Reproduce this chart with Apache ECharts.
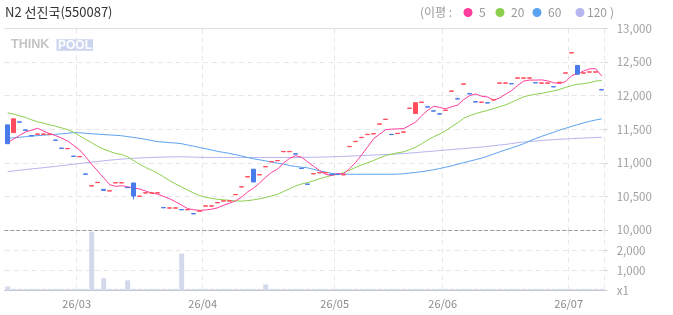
<!DOCTYPE html>
<html><head><meta charset="utf-8">
<script src="https://cdn.jsdelivr.net/npm/echarts@6/dist/echarts.min.js"></script>
<style>html,body{margin:0;padding:0;background:#fff}#c{width:673px;height:315px}</style>
</head><body><div id="c"></div>
<script>
const title = 'N2 선진국(550087)';
const dates = [
'26/02/09','26/02/10','26/02/11','26/02/12','26/02/13','26/02/19','26/02/20','26/02/23','26/02/24','26/02/25','26/02/26','26/02/27',
'26/03/03','26/03/04','26/03/05','26/03/06','26/03/09','26/03/10','26/03/11','26/03/12','26/03/13','26/03/16','26/03/17','26/03/18','26/03/19','26/03/20','26/03/23','26/03/24','26/03/25','26/03/26','26/03/27','26/03/30','26/03/31',
'26/04/01','26/04/02','26/04/03','26/04/06','26/04/07','26/04/08','26/04/09','26/04/10','26/04/13','26/04/14','26/04/15','26/04/16','26/04/17','26/04/20','26/04/21','26/04/22','26/04/23','26/04/24','26/04/27','26/04/28','26/04/29','26/04/30',
'26/05/04','26/05/06','26/05/07','26/05/08','26/05/11','26/05/12','26/05/13','26/05/14','26/05/15','26/05/18','26/05/19','26/05/20','26/05/21','26/05/22','26/05/26','26/05/27','26/05/28','26/05/29',
'26/06/01','26/06/02','26/06/04','26/06/05','26/06/08','26/06/09','26/06/10','26/06/11','26/06/12','26/06/15','26/06/16','26/06/17','26/06/18','26/06/19','26/06/22','26/06/23','26/06/24','26/06/25','26/06/26','26/06/29','26/06/30',
'26/07/01','26/07/02','26/07/03','26/07/06','26/07/07','26/07/08'];
const opens = [11565,11450,11610,11490,11405,11425,11425,11425,11340,11220,11210,11100,11090,10835,10655,10705,10605,10580,10700,10700,
10635,10700,10500,10550,10550,10550,10335,10325,10325,10305,10300,10245,10280,10355,10355,10405,10430,10430,10525,10640,
10790,10905,10820,10940,11015,11030,11165,11165,11135,10920,10685,10835,10850,10850,10830,10830,10820,11240,11315,11375,
11420,11430,11575,11645,11425,11435,11455,11810,11735,11900,11835,11775,11730,11780,12065,11955,12170,12030,11910,11900,
11895,11935,12185,12185,12180,12260,12260,12260,12195,12185,12185,12135,12195,12335,12635,12450,12335,12350,12350,12090];
const closes = [11285,11655,11605,11485,11400,11430,11430,11430,11335,11215,11215,11095,11095,10830,10660,10710,10590,10585,10705,10705,
10630,10505,10505,10555,10555,10555,10330,10330,10330,10300,10305,10240,10285,10360,10360,10410,10435,10435,10530,10645,
10795,10715,10825,10945,11020,11035,11170,11170,11130,10915,10680,10840,10855,10855,10825,10825,10825,11245,11320,11380,
11425,11435,11580,11650,11420,11440,11460,11815,11895,11905,11830,11770,11725,11785,12070,11950,12175,12025,11905,11905,
11890,11940,12190,12190,12175,12265,12265,12265,12190,12190,12190,12130,12200,12340,12640,12320,12340,12355,12355,12085];
const lowWicks = {21: 10455};
const volumes = [210,90,90,90,90,90,90,90,90,90,90,90,90,90,2940,90,620,90,90,90,
515,90,90,90,90,90,90,90,90,1850,90,90,90,90,90,90,90,90,90,90,
90,90,90,310,90,90,90,90,90,90,90,90,90,90,90,90,90,90,90,90,
90,90,90,90,90,90,90,90,90,90,90,90,90,90,90,90,90,90,90,90,
90,90,90,90,90,90,90,90,90,90,90,90,90,90,90,90,90,90,90,90];
const ma5 = [11300,11355,11410,11460,11486,11515,11470,11435,11405,11368,11325,11258,11191,11090,10979,10878,10777,10675,10650,10659,
10643,10626,10610,10580,10550,10535,10500,10465,10420,10369,10319,10301,10292,10298,10310,10331,10370,10400,10434,10491,
10568,10624,10702,10785,10860,10908,10999,11068,11105,11084,11013,10947,10884,10829,10811,10840,10837,10915,11008,11119,
11239,11361,11428,11494,11502,11505,11510,11557,11606,11703,11781,11843,11825,11803,11836,11860,11941,12001,12025,11992,
11980,11933,11966,12023,12077,12152,12217,12232,12232,12235,12220,12193,12180,12210,12300,12326,12368,12399,12402,12291];
const ma20 = [11745,11725,11700,11675,11640,11610,11590,11565,11545,11520,11495,11455,11400,11350,11300,11245,11205,11170,11140,11123,
11090,11033,10978,10931,10889,10845,10790,10735,10685,10639,10594,10551,10511,10487,10472,10457,10449,10442,10433,10430,
10438,10449,10465,10484,10508,10532,10574,10616,10656,10686,10705,10735,10764,10788,10812,10832,10852,10892,10932,10969,
11000,11036,11074,11109,11129,11149,11164,11196,11234,11284,11341,11388,11431,11478,11540,11596,11664,11703,11732,11758,
11782,11807,11837,11864,11902,11943,11984,12006,12021,12035,12053,12071,12095,12123,12151,12170,12178,12194,12217,12226];
const ma60 = [11365,11372,11380,11390,11400,11405,11412,11418,11425,11432,11440,11450,11447,11440,11433,11427,11420,11415,11410,11403,
11390,11378,11365,11350,11332,11315,11308,11300,11295,11285,11265,11248,11228,11210,11190,11170,11155,11140,11120,11102,
11080,11060,11045,11028,11012,10995,10980,10960,10945,10935,10925,10902,10880,10862,10842,10835,10832,10830,10830,10830,
10830,10830,10830,10830,10830,10832,10837,10848,10858,10868,10882,10898,10915,10935,10955,10980,11003,11025,11048,11070,
11100,11132,11163,11193,11222,11253,11285,11325,11362,11395,11425,11455,11488,11515,11543,11570,11595,11618,11638,11655];
const ma120 = [10870,10880,10890,10900,10910,10918,10928,10938,10948,10958,10968,10980,10990,11000,11010,11020,11030,11040,11048,11055,
11062,11067,11072,11076,11080,11083,11086,11088,11090,11090,11088,11085,11082,11080,11080,11080,11080,11080,11080,11080,
11080,11080,11080,11080,11080,11080,11080,11080,11080,11081,11082,11083,11085,11087,11090,11093,11096,11100,11104,11108,
11112,11116,11120,11124,11128,11132,11138,11145,11152,11160,11168,11175,11183,11190,11197,11205,11212,11220,11228,11235,
11245,11255,11265,11275,11287,11300,11310,11318,11325,11332,11340,11345,11350,11355,11360,11365,11369,11373,11377,11380];
const maNames = ['5','20','60','120'];
const maColors = ['#ff3d9d','#8ccf4d','#5ba2f2','#b5b5ef'];
const upColor = '#ff4d5e', downColor = '#4a7bea';

const candleData = dates.map((d,i)=>{
  const o=opens[i], c=closes[i];
  const lo = lowWicks[i] !== undefined ? lowWicks[i] : Math.min(o,c);
  return [o, c, lo, Math.max(o,c)];
});
const monthStart = (i)=> i>0 && dates[i].slice(3,5)!==dates[i-1].slice(3,5);
const font = '"Noto Sans CJK KR","Noto Sans",sans-serif';
const L = 4.7, R = 673-604.7;

const chart = echarts.init(document.getElementById('c'), null, {renderer:'canvas'});
const legendItems = [];
const legendPos = [[468,479],[500,511],[537,548],[580,587]];
maNames.forEach((n,k)=>{
  legendItems.push({type:'circle', shape:{cx:legendPos[k][0], cy:12.5, r:4.5}, style:{fill:maColors[k]}});
  legendItems.push({type:'text', x:legendPos[k][1], y:12.5, style:{text:n, fill:'#9a9a9a', font:'12px '+font, textVerticalAlign:'middle'}});
});
chart.setOption({
  animation:false,
  backgroundColor:'#fff',
  textStyle:{fontFamily:font},
  grid:[
    {left:L, right:R, top:28.5, height:201.5},
    {left:L, right:R, top:230.5, height:60.2}
  ],
  xAxis:[
    {type:'category', gridIndex:0, data:dates, boundaryGap:true, position:'bottom',
     axisLine:{show:true, lineStyle:{color:'#9a9a9a', type:[3,3], width:1}},
     axisTick:{show:false}, axisLabel:{show:false},
     splitLine:{show:true, interval:(i)=>monthStart(i), lineStyle:{color:'#e6e6e6', type:[5,4]}}},
    {type:'category', gridIndex:0, data:dates, boundaryGap:true, position:'top',
     axisLine:{show:true, lineStyle:{color:'#dedede'}}, axisTick:{show:false}, axisLabel:{show:false}, splitLine:{show:false}},
    {type:'category', gridIndex:1, data:dates, boundaryGap:true, position:'bottom',
     axisLine:{show:true, lineStyle:{color:'#b5b5b5'}}, axisTick:{show:false},
     axisLabel:{show:true, interval:(i)=>monthStart(i), formatter:(v)=>v.slice(0,5), color:'#8a8a8a', fontSize:11, margin:8, padding:[0,6,0,0]},
     splitLine:{show:true, interval:(i)=>monthStart(i), lineStyle:{color:'#e8e8e8', type:[5,4]}}}
  ],
  yAxis:[
    {type:'value', gridIndex:0, position:'right', min:10000, max:13000, interval:500,
     axisLine:{show:false}, axisTick:{show:true, length:3, lineStyle:{color:'#cfcfcf'}},
     axisLabel:{color:'#a0a0a0', fontSize:11.5, margin:12, formatter:(v)=>v.toLocaleString('en-US')},
     splitLine:{show:true, lineStyle:{color:'#e6e6e6', type:[5,4]}}},
    {type:'value', gridIndex:1, position:'right', min:0, max:3000, interval:1000,
     axisLine:{show:false}, axisTick:{show:true, length:3, lineStyle:{color:'#cfcfcf'}},
     axisLabel:{color:'#a0a0a0', fontSize:11.5, margin:12, formatter:(v)=> v===0?'x1':(v>=3000?'':v.toLocaleString('en-US'))},
     splitLine:{show:true, lineStyle:{color:'#e6e6e6', type:[5,4]}}}
  ],
  series:[
    ...[ma120, ma60, ma20, ma5].map((arr,k)=>({
      type:'line', name:maNames[3-k], xAxisIndex:0, yAxisIndex:0, data:arr, symbol:'none',
      lineStyle:{width:1, color:maColors[3-k]}, z:2, silent:true})),
    {type:'candlestick', xAxisIndex:0, yAxisIndex:0, data:candleData, barWidth:5, z:3,
     itemStyle:{color:upColor, color0:downColor, borderColor:upColor, borderColor0:downColor, borderWidth:1}},
    {type:'bar', xAxisIndex:2, yAxisIndex:1, data:volumes, barWidth:5, itemStyle:{color:'#d3d8ea'}, z:2}
  ],
  graphic:[
    {type:'text', x:5, y:12.5, style:{text:title, fill:'#333', font:'13px '+font, textVerticalAlign:'middle'}},
    {type:'text', x:420, y:12.5, style:{text:'(이평 :', fill:'#9a9a9a', font:'12px '+font, textVerticalAlign:'middle'}},
    ...legendItems,
    {type:'text', x:610, y:12.5, style:{text:')', fill:'#9a9a9a', font:'12px '+font, textVerticalAlign:'middle'}},
    {type:'text', x:11, y:45, style:{text:'THINK', fill:'#c4c4c4', font:'bold 12.5px "Liberation Sans",sans-serif', textVerticalAlign:'middle'}},
    {type:'rect', shape:{x:56.5, y:39.3, width:36.5, height:11.5}, style:{fill:'#cbd5f0'}},
    {type:'text', x:58, y:45.2, style:{text:'POOL', fill:'#ffffff', font:'bold 12px "Liberation Sans",sans-serif', textVerticalAlign:'middle'}}
  ]
});
</script></body></html>
